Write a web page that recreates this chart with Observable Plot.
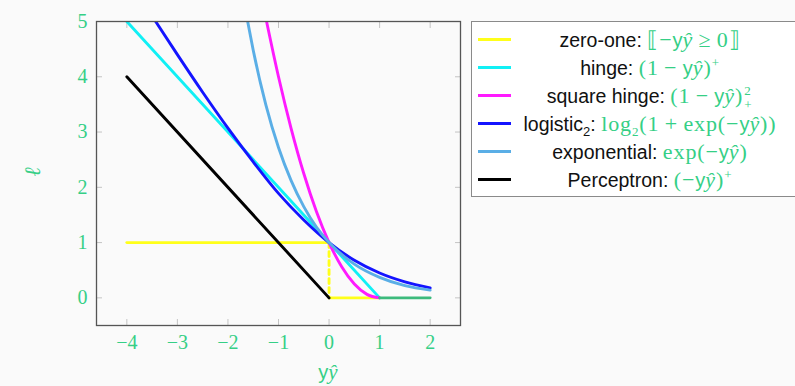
<!DOCTYPE html>
<html>
<head>
<meta charset="utf-8">
<script src="https://cdn.jsdelivr.net/npm/d3@7"></script>
<script src="https://cdn.jsdelivr.net/npm/@observablehq/plot@0.6"></script>
<style>
  html, body { margin: 0; padding: 0; background: #fafafa; overflow: hidden; }
  #wrap { position: relative; width: 795px; height: 386px; background: #fafafa; }
  #chart { position: absolute; left: 0; top: 0; }
  .green { color: #35cf86; font-family: "Liberation Serif", serif; }
  .it { font-style: italic; }
  .sf { font-family: "Liberation Sans", sans-serif; }
  #legend { position: absolute; left: 471px; top: 21px; width: 345px; height: 174px;
            border: 1.5px solid #8a8a8a; background: #ffffff; }
  .row { position: absolute; left: 0; height: 28px; width: 100%; }
  .sw { position: absolute; left: 6px; top: 12.5px; width: 33px; height: 3px; }
  .lt { position: absolute; left: 178px; top: 0; transform: translateX(-50%); white-space: nowrap;
        font-family: "Liberation Sans", sans-serif; font-size: 19.5px; line-height: 28px; height: 28px; color: #111; }
  .lt .green { font-size: 22px; letter-spacing: 0.9px; }
  .lt .green .sf { font-size: 20px; letter-spacing: 0; }
  sup, sub { line-height: 0; font-size: 13px; }
  .ss { display: inline-block; position: relative; width: 10px; height: 10px; vertical-align: baseline; }
  .ss span { position: absolute; left: 1px; font-size: 13px; line-height: 13px; }
  #xlab { position: absolute; left: 328px; top: 360px; transform: translateX(-50%); font-size: 21px; white-space: nowrap; }
  #xlab .sf { font-size: 20px; }
  #ylab { position: absolute; left: 33px; top: 172px; transform: translate(-50%, -50%) rotate(-90deg); font-size: 22px; }
</style>
</head>
<body>
<div id="wrap">
  <div id="chart"></div>
  <div id="xlab" class="green"><span class="sf">y</span><span class="it">ŷ</span></div>
  <div id="ylab" class="green it">ℓ</div>
  <div id="legend"></div>
</div>
<script>
// ---- data ----
const xTicks = [-4, -3, -2, -1, 0, 1, 2];
const yTicks = [0, 1, 2, 3, 4, 5];

const zeroOneLeftX = [-4, 0];       const zeroOneLeftY = [1, 1];
const zeroOneJumpX = [0, 0];        const zeroOneJumpY = [1, 0];
const zeroOneRightX = [0, 1];       const zeroOneRightY = [0, 0];
const hingeX = [-4, 1];             const hingeY = [5, 0];
const sqHingeX = [-1.236, -1, -0.75, -0.5, -0.25, 0, 0.25, 0.5, 0.75, 1];
const sqHingeY = [5, 4, 3.063, 2.25, 1.563, 1, 0.563, 0.25, 0.063, 0];
const logisticX = [-3.43, -3, -2.5, -2, -1.5, -1, -0.5, 0, 0.5, 1, 1.5, 2];
const logisticY = [5, 4.40, 3.72, 3.07, 2.46, 1.89, 1.41, 1, 0.68, 0.45, 0.29, 0.18];
const expX = [-1.61, -1.5, -1.25, -1, -0.75, -0.5, -0.25, 0, 0.5, 1, 1.5, 2];
const expY = [5, 4.48, 3.49, 2.72, 2.12, 1.65, 1.28, 1, 0.61, 0.37, 0.22, 0.14];
const perceptronX = [-4, 0];        const perceptronY = [4, 0];
const tailX = [1, 2];               const tailY = [0, 0];

const colors = {
  zeroOne: "#ffff1a", hinge: "#11f0f5", sqHinge: "#ff1aff",
  logistic: "#1414ff", exp: "#5aaee6", perceptron: "#000000", tail: "#3cba7c"
};
const green = "#35cf86";

const pts = (xs, ys) => xs.map((x, i) => ({x, y: ys[i]}));

const lineOpts = (stroke, extra = {}) => ({x: "x", y: "y", stroke, strokeWidth: 2.9, curve: "monotone-x", clip: true, ...extra});

const tickStyle = {tickSize: 6, tickFormat: () => "", stroke: "#c4c4c4", strokeWidth: 1, label: null};

const chart = Plot.plot({
  width: 795,
  height: 386,
  marginLeft: 96,
  marginTop: 21,
  marginBottom: 61,
  marginRight: 335,
  style: {background: "transparent", overflow: "visible"},
  x: {domain: [-4.6, 2.6]},
  y: {domain: [-0.5, 5]},
  marks: [
    Plot.axisX(xTicks, {anchor: "bottom", dy: -6, ...tickStyle}),
    Plot.axisX(xTicks, {anchor: "top", dy: 6, ...tickStyle}),
    Plot.axisY(yTicks, {anchor: "left", dx: 6, ...tickStyle}),
    Plot.axisY(yTicks, {anchor: "right", dx: -6, ...tickStyle}),
    Plot.text(xTicks, {x: d => d, frameAnchor: "bottom", dy: 17, lineAnchor: "middle",
      text: d => d < 0 ? "\u2212" + Math.abs(d) : String(d),
      fill: green, fontSize: 20, fontFamily: "Liberation Serif"}),
    Plot.text(yTicks, {y: d => d, frameAnchor: "left", dx: -9, textAnchor: "end", lineAnchor: "middle",
      text: d => String(d), fill: green, fontSize: 20, fontFamily: "Liberation Serif"}),
    Plot.line(pts(zeroOneLeftX, zeroOneLeftY), lineOpts(colors.zeroOne, {curve: "linear"})),
    Plot.line(pts(zeroOneJumpX, zeroOneJumpY), lineOpts(colors.zeroOne, {curve: "linear", strokeDasharray: "5,4"})),
    Plot.line(pts(zeroOneRightX, zeroOneRightY), lineOpts(colors.zeroOne, {curve: "linear"})),
    Plot.line(pts(hingeX, hingeY), lineOpts(colors.hinge, {curve: "linear"})),
    Plot.line(pts(sqHingeX, sqHingeY), lineOpts(colors.sqHinge)),
    Plot.line(pts(logisticX, logisticY), lineOpts(colors.logistic)),
    Plot.line(pts(expX, expY), lineOpts(colors.exp)),
    Plot.line(pts(perceptronX, perceptronY), lineOpts(colors.perceptron, {curve: "linear"})),
    Plot.line(pts(tailX, tailY), lineOpts(colors.tail, {curve: "linear"})),
    Plot.frame({stroke: "#555555", strokeWidth: 1.3})
  ]
});
document.getElementById("chart").appendChild(chart);

// ---- legend ----
const Y = '<span class="sf">y</span><span class="it">ŷ</span>';
const M = '\u2009−\u2009';
const legendItems = [
  {color: colors.zeroOne, label: "zero-one:", math: '⟦−' + Y + '\u2009≥\u20090⟧'},
  {color: colors.hinge, label: "hinge:", math: '(1' + M + Y + ')<sup>+</sup>'},
  {color: colors.sqHinge, label: "square hinge:", math: '(1' + M + Y + ')<span class="ss"><span style="top:-9px">2</span><span style="top:5px">+</span></span>'},
  {color: colors.logistic, label: 'logistic<sub>2</sub>:', math: 'log<sub>2</sub>(1\u2009+\u2009exp(−' + Y + '))'},
  {color: colors.exp, label: "exponential:", math: 'exp(−' + Y + ')'},
  {color: colors.perceptron, label: "Perceptron:", math: '(−' + Y + ')<sup>+</sup>'}
];
const legend = document.getElementById("legend");
legendItems.forEach((it, i) => {
  const row = document.createElement("div");
  row.className = "row";
  row.style.top = (3.5 + i * 28) + "px";
  row.innerHTML = '<div class="sw" style="background:' + it.color + '"></div>' +
    '<div class="lt">' + it.label + ' <span class="green">' + it.math + '</span></div>';
  legend.appendChild(row);
});
</script>
</body>
</html>
